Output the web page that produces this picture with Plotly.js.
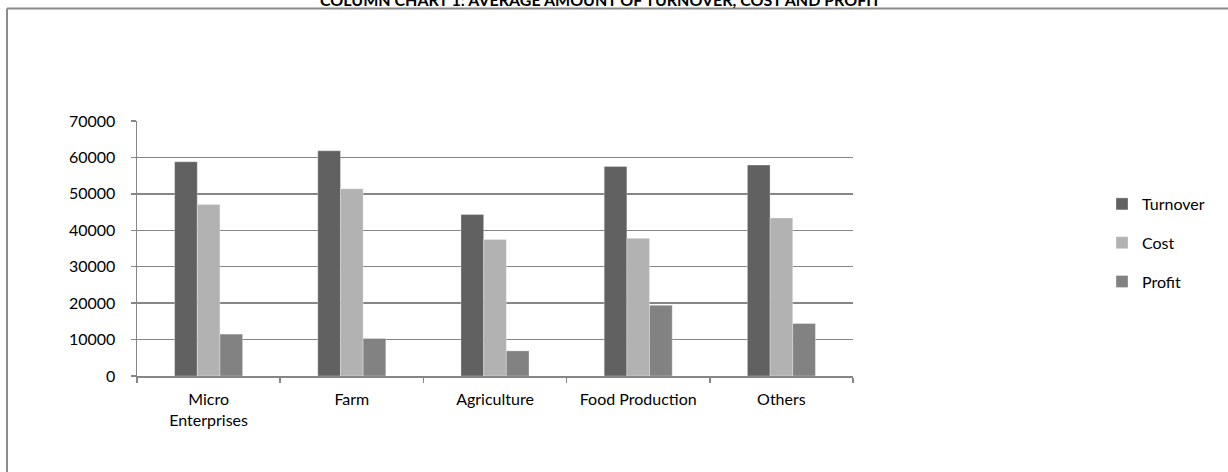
<!DOCTYPE html>
<html>
<head>
<meta charset="utf-8">
<script src="https://cdn.plot.ly/plotly-3.0.1.min.js"></script>
<style>html,body{margin:0;padding:0;background:#fff;}#chart{width:1228px;height:472px;}</style>
</head>
<body>
<div id="chart"></div>
<script>
var categories = ["Micro<br>Enterprises", "Farm", "Agriculture", "Food Production", "Others"];
var turnover = [58800, 61800, 44300, 57500, 57900];
var cost = [47100, 51400, 37500, 37800, 43400];
var profit = [11500, 10300, 6900, 19400, 14400];
var seriesNames = ["Turnover", "Cost", "Profit"];
var yTicks = [0, 10000, 20000, 30000, 40000, 50000, 60000, 70000];
var titleText = "COLUMN CHART 1: AVERAGE AMOUNT OF TURNOVER, COST AND PROFIT";

var colors = ["#616161", "#b2b2b2", "#828282"];
var vals = [turnover, cost, profit];
var traces = seriesNames.map(function(n, i){
  return {type:'bar', name:n, x:categories, y:vals[i], legendgroup:'g'+i,
    marker:{color:colors[i], line:{color:'rgba(255,255,255,0.6)', width:0.5}}};
});

var W=1228,H=472,L=137,R=853,T=121,B=376;
var pw=R-L, ph=B-T;
function px(x){return (x-L)/pw;}
function py(y){return (B-y)/ph;}

var layout = {
  width:W, height:H,
  margin:{l:L, r:W-R, t:T, b:H-B, pad:0},
  paper_bgcolor:'#fff', plot_bgcolor:'#fff',
  font:{family:'Lato, "Open Sans", sans-serif', size:16, color:'#000'},
  barmode:'group', bargap:0.525, bargroupgap:0,
  showlegend:true,
  legend:{x:px(1102), xanchor:'left', y:py(187), yanchor:'top',
    traceorder:'grouped', tracegroupgap:15, font:{size:16, color:'#000'},
    bgcolor:'rgba(0,0,0,0)'},
  xaxis:{showgrid:false, showline:true, linecolor:'#868686', linewidth:1.5,
    ticks:'outside', tickson:'boundaries', ticklen:5, tickcolor:'#868686', tickwidth:1.5,
    tickfont:{size:16}, ticklabelstandoff:8, fixedrange:true},
  yaxis:{range:[0,70000], tickvals:yTicks, ticktext:yTicks.map(String),
    showgrid:true, gridcolor:'#868686', gridwidth:1.5, zeroline:false,
    showline:true, linecolor:'#868686', linewidth:1.5,
    ticks:'outside', ticklen:5, tickcolor:'#868686', tickwidth:1.5,
    tickfont:{size:16}, ticklabelstandoff:12, fixedrange:true},
  annotations:[{text:'<b>'+titleText+'</b>', xref:'paper', yref:'paper',
    x:px(600), y:py(0), xanchor:'center', yanchor:'middle', showarrow:false,
    font:{size:16, color:'#000'}}],
  shapes:[
    {type:'line', xref:'paper', yref:'paper', x0:px(7), x1:px(1230), y0:py(8.5), y1:py(8.5), line:{color:'#8c8c8c', width:2}},
    {type:'line', xref:'paper', yref:'paper', x0:px(7), x1:px(7), y0:py(8.5), y1:py(475), line:{color:'#8c8c8c', width:2}}
  ]
};
Plotly.newPlot('chart', traces, layout, {displayModeBar:false, staticPlot:true});
</script>
</body>
</html>
